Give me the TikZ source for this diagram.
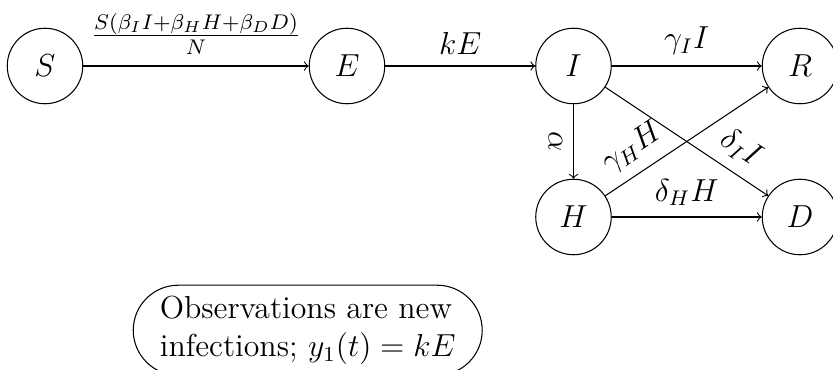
\documentclass[12pt,tikz,border=0pt]{standalone}
\usetikzlibrary{shapes.misc}
\begin{document}
\begin{tikzpicture}[
  state/.style={circle, draw, minimum size=1cm, inner sep=0pt},
  flow/.style={->},
  obsbox/.style={rounded rectangle, draw, align=left}
]
\useasboundingbox (-0.596,-4.026) rectangle (10.437,0.874);
\node[state] (S) at (0,0) {$S$};
\node[state] (E) at (4,0) {$E$};
\node[state] (I) at (7,0) {$I$};
\node[state] (R) at (10,0) {$R$};
\node[state] (H) at (7,-2) {$H$};
\node[state] (D) at (10,-2) {$D$};
\draw[flow] (S) -- node[above] {$\frac{S(\beta_I I+\beta_H H+\beta_D D)}{N}$} (E);
\draw[flow] (E) -- node[above] {$kE$} (I);
\draw[flow] (I) -- node[above] {$\gamma_I I$} (R);
\draw[flow] (I) -- node[sloped, below] {$\alpha$} (H);
\draw[flow] (I) -- node[sloped, above, pos=0.75] {$\delta_I I$} (D);
\draw[flow] (H) -- node[sloped, above, pos=0.25] {$\gamma_H H$} (R);
\draw[flow] (H) -- node[above] {$\delta_H H$} (D);
\node[obsbox] (obs) at (3.48,-3.5) {Observations are new\\infections; $y_1(t) = kE$};
\end{tikzpicture}
\end{document}
